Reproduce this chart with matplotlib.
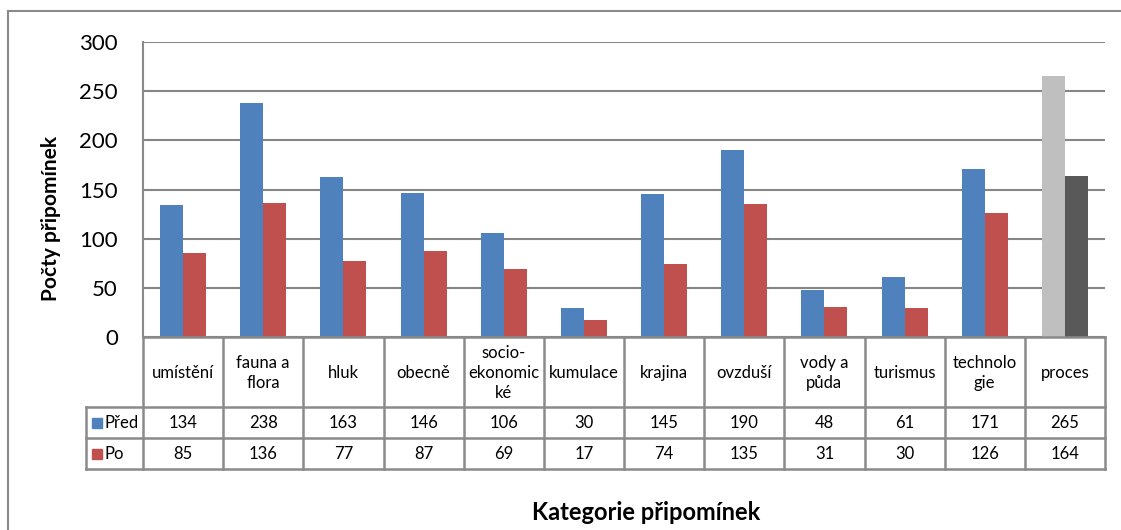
import numpy as np
import matplotlib
matplotlib.use("Agg")
import matplotlib.pyplot as plt
from matplotlib.lines import Line2D
from matplotlib.patches import Rectangle

plt.rcParams['font.family'] = ['Lato', 'DejaVu Sans']

categories = ["umístění", "fauna a\nflora", "hluk", "obecně", "socio-\nekonomic\nké",
              "kumulace", "krajina", "ovzduší", "vody a\npůda", "turismus",
              "technolo\ngie", "proces"]
pred = [134, 238, 163, 146, 106, 30, 145, 190, 48, 61, 171, 265]
po = [85, 136, 77, 87, 69, 17, 74, 135, 31, 30, 126, 164]
series_names = ["Před", "Po"]
yticks = [0, 50, 100, 150, 200, 250, 300]

BLUE, RED = "#4F81BD", "#C0504D"
LIGHT, DARK = "#BFBFBF", "#595959"
GRID = "#868686"
LINE = "#8A8A8A"

W, H = 1121, 530
fig = plt.figure(figsize=(W / 100, H / 100), dpi=100)

def px_axes(x0, y0, x1, y1):
    # pixel box (top-left origin) -> figure fraction axes
    return fig.add_axes([x0 / W, 1 - y1 / H, (x1 - x0) / W, (y1 - y0) / H])

# outer chart border
fig.add_artist(Line2D([8 / W, 8 / W], [0, 1 - 11 / H], color=LINE, lw=1.5))
fig.add_artist(Line2D([8 / W, 1], [1 - 11 / H, 1 - 11 / H], color=LINE, lw=1.5))

# main bar axes
ax = px_axes(143, 42, 1105, 337)
x = np.arange(len(categories))
bw = 0.286
c1 = [BLUE] * (len(x) - 1) + [LIGHT]
c2 = [RED] * (len(x) - 1) + [DARK]
ax.bar(x - bw / 2, pred, bw, color=c1, zorder=3)
ax.bar(x + bw / 2, po, bw, color=c2, zorder=3)
ax.set_xlim(-0.5, len(x) - 0.5)
ax.set_ylim(0, 300)
ax.set_yticks(yticks)
ax.yaxis.grid(True, color=GRID, lw=1.5)
ax.set_axisbelow(True)
ax.set_xticks([])
ax.tick_params(axis='y', length=0, pad=18, labelsize=16, colors="black")
for s in ["top", "right", "bottom"]:
    ax.spines[s].set_visible(False)
ax.spines["left"].set_color(LINE)
ax.spines["left"].set_linewidth(1.5)

# data table
tax = px_axes(86, 337, 1105, 469)
leg_w = 57 / ((1105 - 143) / len(x))
tax.set_xlim(-0.5 - leg_w, len(x) - 0.5)
tax.set_ylim(132, 0)
tax.axis("off")
rows = [0, 70, 101, 132]
kw = dict(color=LINE, lw=1.8, clip_on=False)
tax.plot([-0.5, len(x) - 0.5], [0, 0], **kw)
for r in rows[1:]:
    tax.plot([-0.5 - leg_w, len(x) - 0.5], [r, r], **kw)
for i in range(len(x) + 1):
    tax.plot([i - 0.5, i - 0.5], [0, 132], **kw)
tax.plot([-0.5 - leg_w, -0.5 - leg_w], [70, 132], **kw)

for i, cat in enumerate(categories):
    tax.text(i, 36, cat, ha="center", va="center", fontsize=12, linespacing=1.3)
    tax.text(i, 86, str(pred[i]), ha="center", va="center", fontsize=12)
    tax.text(i, 117, str(po[i]), ha="center", va="center", fontsize=12)

for name, col, yc in zip(series_names, [BLUE, RED], [86, 117]):
    tax.add_patch(Rectangle((-0.5 - leg_w + 0.08, yc - 5), 0.12, 10, color=col, clip_on=False))
    tax.text(-0.5 - leg_w + 0.23, yc, name, ha="left", va="center", fontsize=12)

fig.text(51 / W, 1 - 218 / H, "Počty připomínek", ha="center", va="center",
         rotation=90, fontsize=15, fontweight="bold")
fig.text(646 / W, 1 - 513 / H, "Kategorie připomínek", ha="center", va="center",
         fontsize=17, fontweight="bold")

fig.savefig("out.png", dpi=100)
